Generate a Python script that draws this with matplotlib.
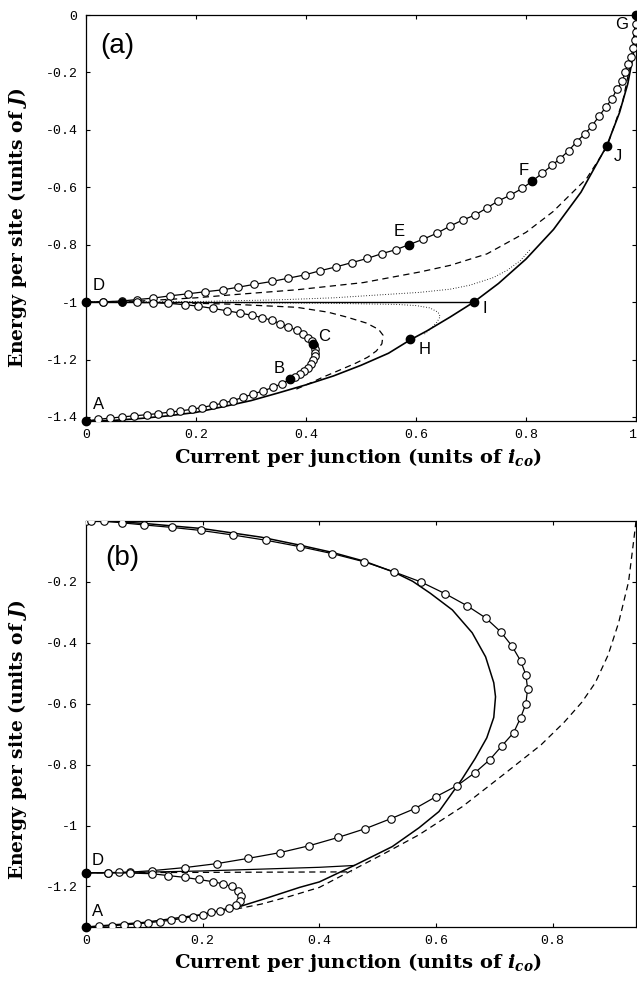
import matplotlib
matplotlib.use("Agg")
import matplotlib.pyplot as plt
import numpy as np

plt.rcParams["mathtext.fontset"] = "custom"
plt.rcParams["mathtext.rm"] = "DejaVu Serif:bold"
plt.rcParams["mathtext.it"] = "DejaVu Serif:italic:bold"
plt.rcParams["mathtext.bf"] = "DejaVu Serif:bold"

# ---------------- panel (a) data ----------------
a_upper_circ = [(0, -1.0), (0.03, -0.999), (0.065, -0.996), (0.093, -0.991), (0.122, -0.986),
                (0.153, -0.978), (0.185, -0.971), (0.216, -0.964), (0.249, -0.957), (0.277, -0.948),
                (0.306, -0.938), (0.338, -0.928), (0.367, -0.917), (0.398, -0.905), (0.425, -0.891),
                (0.455, -0.877), (0.484, -0.862), (0.511, -0.848), (0.538, -0.831), (0.564, -0.817),
                (0.587, -0.800), (0.613, -0.781), (0.638, -0.760), (0.662, -0.735), (0.685, -0.714),
                (0.707, -0.697), (0.729, -0.672), (0.749, -0.648), (0.771, -0.628), (0.793, -0.604),
                (0.811, -0.579), (0.829, -0.552), (0.847, -0.524), (0.862, -0.500), (0.878, -0.472),
                (0.892, -0.441), (0.907, -0.414), (0.920, -0.386), (0.933, -0.352), (0.945, -0.321),
                (0.956, -0.293), (0.965, -0.259), (0.975, -0.231), (0.980, -0.200), (0.985, -0.172),
                (0.991, -0.145), (0.995, -0.114), (0.998, -0.086), (1.0, -0.059), (1.0, -0.030),
                (1.0, 0.0)]
a_lower_circ = [(0, -1.0), (0.03, -1.0), (0.065, -1.0), (0.093, -1.001), (0.122, -1.002),
                (0.149, -1.004), (0.18, -1.009), (0.204, -1.014), (0.231, -1.022), (0.256, -1.030),
                (0.28, -1.038), (0.302, -1.046), (0.32, -1.054), (0.338, -1.063), (0.353, -1.075),
                (0.367, -1.086), (0.383, -1.098), (0.395, -1.111), (0.404, -1.124), (0.41, -1.137),
                (0.414, -1.150), (0.416, -1.163), (0.417, -1.176), (0.416, -1.189), (0.413, -1.202),
                (0.409, -1.215), (0.404, -1.228), (0.397, -1.241), (0.389, -1.252), (0.380, -1.261),
                (0.371, -1.269), (0.356, -1.284), (0.34, -1.297), (0.322, -1.309), (0.304, -1.320),
                (0.285, -1.332), (0.267, -1.343), (0.249, -1.352), (0.231, -1.359), (0.211, -1.367),
                (0.193, -1.373), (0.171, -1.379), (0.153, -1.383), (0.131, -1.388), (0.111, -1.392),
                (0.087, -1.396), (0.065, -1.400), (0.044, -1.404), (0.022, -1.408), (0, -1.414)]
a_solid = [(0, -1.414), (0.05, -1.412), (0.1, -1.405), (0.15, -1.396), (0.2, -1.384),
           (0.25, -1.364), (0.3, -1.343), (0.35, -1.316), (0.4, -1.288), (0.45, -1.257),
           (0.5, -1.220), (0.55, -1.178), (0.589, -1.132), (0.62, -1.100), (0.662, -1.052),
           (0.705, -1.0), (0.75, -0.935), (0.8, -0.85), (0.85, -0.747), (0.9, -0.617),
           (0.947, -0.455), (0.97, -0.34), (0.985, -0.24), (0.995, -0.14), (1.0, 0.0)]
a_flat = [(0, -1.0), (0.705, -1.0)]
a_dash_up = [(0, -1.0), (0.1, -0.996), (0.2, -0.985), (0.262, -0.975), (0.383, -0.957),
             (0.504, -0.932), (0.607, -0.895), (0.662, -0.872), (0.729, -0.832), (0.8, -0.757),
             (0.849, -0.685), (0.91, -0.57), (0.947, -0.46), (0.976, -0.3), (0.992, -0.15), (1.0, 0.0)]
a_dash_low = [(0, -1.0), (0.1, -1.001), (0.2, -1.004), (0.262, -1.007), (0.383, -1.018),
              (0.44, -1.035), (0.474, -1.052), (0.51, -1.073), (0.532, -1.095), (0.54, -1.115),
              (0.538, -1.145), (0.528, -1.17), (0.512, -1.192), (0.49, -1.213), (0.456, -1.241),
              (0.43, -1.262), (0.41, -1.28), (0.38, -1.305)]
a_dot_up = [(0, -1.0), (0.2, -0.998), (0.35, -0.992), (0.45, -0.985), (0.54, -0.974),
            (0.607, -0.966), (0.662, -0.955), (0.698, -0.941), (0.74, -0.915), (0.765, -0.89),
            (0.79, -0.855), (0.807, -0.818)]
a_dot_low = [(0, -1.0), (0.2, -1.001), (0.35, -1.003), (0.444, -1.004), (0.565, -1.008),
             (0.6, -1.012), (0.625, -1.02), (0.64, -1.035), (0.644, -1.05), (0.638, -1.07),
             (0.628, -1.09), (0.615, -1.112)]
a_points = {"A": (0, -1.414), "B": (0.371, -1.269), "C": (0.412, -1.145), "D": (0, -1.0),
            "E": (0.587, -0.800), "F": (0.811, -0.579), "G": (1.0, 0.0), "H": (0.589, -1.13),
            "I": (0.705, -1.0), "J": (0.947, -0.455)}
a_extra_dots = [(0.065, -1.0)]
a_label_pos = {"A": (0.012, -1.355), "B": (0.351, -1.231), "C": (0.433, -1.121),
               "D": (0.012, -0.941), "E": (0.569, -0.753), "F": (0.796, -0.541),
               "G": (0.973, -0.034), "H": (0.615, -1.166), "I": (0.725, -1.021),
               "J": (0.967, -0.493)}
a_xticks = [0, 0.2, 0.4, 0.6, 0.8, 1.0]
a_xticklabels = ["0", "0.2", "0.4", "0.6", "0.8", "1"]
a_yticks = [0, -0.2, -0.4, -0.6, -0.8, -1.0, -1.2, -1.4]
a_yticklabels = ["0", "-0.2", "-0.4", "-0.6", "-0.8", "-1", "-1.2", "-1.4"]

# ---------------- panel (b) data ----------------
b_upper_circ = [(0, 0.0), (0.008, 0.0), (0.031, 0.0), (0.062, -0.006), (0.1, -0.013),
                (0.147, -0.021), (0.197, -0.031), (0.252, -0.046), (0.308, -0.063), (0.366, -0.084),
                (0.422, -0.107), (0.477, -0.134), (0.528, -0.167), (0.574, -0.2), (0.616, -0.239),
                (0.653, -0.278), (0.685, -0.318), (0.711, -0.364), (0.73, -0.41), (0.745, -0.459),
                (0.754, -0.505), (0.757, -0.551), (0.754, -0.6), (0.745, -0.646), (0.733, -0.695),
                (0.713, -0.738), (0.692, -0.784), (0.667, -0.826), (0.636, -0.869), (0.6, -0.905),
                (0.564, -0.944), (0.523, -0.977), (0.479, -1.01), (0.432, -1.039), (0.383, -1.066),
                (0.332, -1.089), (0.277, -1.108), (0.224, -1.125), (0.169, -1.138), (0.113, -1.148),
                (0.075, -1.153), (0.056, -1.154), (0.038, -1.155), (0, -1.155)]
b_lower_circ = [(0, -1.155), (0.038, -1.155), (0.075, -1.156), (0.113, -1.158), (0.14, -1.164),
                (0.169, -1.17), (0.193, -1.177), (0.217, -1.184), (0.234, -1.191), (0.25, -1.2),
                (0.26, -1.214), (0.266, -1.23), (0.264, -1.247), (0.257, -1.26), (0.245, -1.27),
                (0.229, -1.279), (0.215, -1.285), (0.2, -1.292), (0.183, -1.299), (0.164, -1.305),
                (0.145, -1.311), (0.126, -1.315), (0.106, -1.319), (0.087, -1.323), (0.065, -1.326),
                (0.044, -1.329), (0.022, -1.331), (0, -1.333)]
b_solid = [(0, 0.0), (0.05, -0.002), (0.1, -0.008), (0.2, -0.025), (0.3, -0.053),
           (0.366, -0.079), (0.422, -0.103), (0.477, -0.132), (0.528, -0.168), (0.56, -0.198),
           (0.59, -0.237), (0.628, -0.292), (0.662, -0.367), (0.685, -0.446), (0.699, -0.531),
           (0.702, -0.577), (0.699, -0.645), (0.687, -0.712), (0.667, -0.78), (0.644, -0.849),
           (0.605, -0.954), (0.571, -1.007), (0.525, -1.069), (0.463, -1.128), (0.4, -1.185),
           (0.366, -1.203), (0.31, -1.238), (0.26, -1.268), (0.2, -1.292), (0.1, -1.318),
           (0, -1.333)]
b_solid_flat = [(0, -1.155), (0.1, -1.153), (0.2, -1.149), (0.3, -1.143), (0.4, -1.137),
                (0.46, -1.131)]
b_dash = [(0.9428, 0.0), (0.939, -0.062), (0.93, -0.2), (0.913, -0.334), (0.895, -0.44),
          (0.873, -0.531), (0.85, -0.595), (0.82, -0.66), (0.78, -0.735), (0.72, -0.826),
          (0.645, -0.938), (0.571, -1.03), (0.514, -1.089), (0.456, -1.147), (0.4, -1.203),
          (0.35, -1.232), (0.3, -1.258), (0.26, -1.273)]
b_dash_flat = [(0, -1.155), (0.456, -1.152)]
b_points = {"A": (0, -1.333), "D": (0, -1.155)}
b_label_pos = {"A": (0.01, -1.282), "D": (0.01, -1.115)}
b_xticks = [0, 0.2, 0.4, 0.6, 0.8]
b_xticklabels = ["0", "0.2", "0.4", "0.6", "0.8"]
b_yticks = [-0.2, -0.4, -0.6, -0.8, -1.0, -1.2]
b_yticklabels = ["-0.2", "-0.4", "-0.6", "-0.8", "-1", "-1.2"]


def xy(pts):
    a = np.array(pts)
    return a[:, 0], a[:, 1]


def circ_line(ax, pts):
    x, y = xy(pts)
    ax.plot(x, y, "-", color="black", lw=0.9, marker="o", ms=5.4, mfc="white",
            mec="black", mew=0.8, zorder=4)


def style_axes(ax, xlim, ylim, xt, xtl, yt, ytl):
    ax.set_xlim(*xlim)
    ax.set_ylim(*ylim)
    ax.set_xticks(xt)
    ax.set_xticklabels(xtl, family="Liberation Mono", fontsize=9.5)
    ax.set_yticks(yt)
    ax.set_yticklabels(ytl, family="Liberation Mono", fontsize=9.5)
    ax.tick_params(direction="in", length=3, width=0.8, top=True, right=True, pad=6)
    for s in ax.spines.values():
        s.set_linewidth(0.9)


fig = plt.figure(figsize=(6.37, 9.85), dpi=100)
ax_a = fig.add_axes([86 / 637, 1 - 421 / 985, 550 / 637, 406 / 985])
ax_b = fig.add_axes([86 / 637, 1 - 927 / 985, 550 / 637, 406 / 985])

# panel (a)
x, y = xy(a_solid)
ax_a.plot(x, y, "-", color="black", lw=1.2)
x, y = xy(a_flat)
ax_a.plot(x, y, "-", color="black", lw=1.0)
for pts in (a_dash_up, a_dash_low):
    x, y = xy(pts)
    ax_a.plot(x, y, color="black", lw=0.9, dashes=(5, 3.5))
for pts in (a_dot_up, a_dot_low):
    x, y = xy(pts)
    ax_a.plot(x, y, color="black", lw=0.7, dashes=(0.8, 2))
circ_line(ax_a, a_upper_circ)
circ_line(ax_a, a_lower_circ)
for name, (px, py) in a_points.items():
    ax_a.plot(px, py, "o", color="black", ms=6, zorder=6, clip_on=False)
for px, py in a_extra_dots:
    ax_a.plot(px, py, "o", color="black", ms=5, zorder=6)
for name, (px, py) in a_label_pos.items():
    ax_a.text(px, py, name, family="Liberation Sans", fontsize=12,
              ha="left" if name in "AD" else "center", va="center")
ax_a.text(0.025, 0.955, "(a)", transform=ax_a.transAxes, family="Liberation Sans",
          fontsize=20, ha="left", va="top")
style_axes(ax_a, (0, 1), (-1.414, 0), a_xticks, a_xticklabels, a_yticks, a_yticklabels)
ax_a.get_xticklabels()[-1].set_horizontalalignment("right")

# panel (b)
x, y = xy(b_solid)
ax_b.plot(x, y, "-", color="black", lw=1.1)
x, y = xy(b_solid_flat)
ax_b.plot(x, y, "-", color="black", lw=0.9)
for pts in (b_dash, b_dash_flat):
    x, y = xy(pts)
    ax_b.plot(x, y, color="black", lw=0.9, dashes=(5, 3.5))
circ_line(ax_b, b_upper_circ)
circ_line(ax_b, b_lower_circ)
for name, (px, py) in b_points.items():
    ax_b.plot(px, py, "o", color="black", ms=6, zorder=6, clip_on=False)
for name, (px, py) in b_label_pos.items():
    ax_b.text(px, py, name, family="Liberation Sans", fontsize=12, ha="left", va="center")
ax_b.text(0.035, 0.94, "(b)", transform=ax_b.transAxes, family="Liberation Sans",
          fontsize=20, ha="left", va="top")
style_axes(ax_b, (0, 0.9428), (-1.333, 0), b_xticks, b_xticklabels, b_yticks, b_yticklabels)

# axis labels
xlabel = r"Current per junction (units of $i_{co}$)"
ylabel = r"Energy per site (units of $J$)"
for ycen in (457, 962):
    fig.text(358 / 637, 1 - ycen / 985, xlabel, family="DejaVu Serif", weight="bold",
             fontsize=14, ha="center", va="center")
for ycen in (228, 740):
    fig.text(18 / 637, 1 - ycen / 985, ylabel, family="DejaVu Serif", weight="bold",
             fontsize=13.5, ha="center", va="center", rotation=90)

fig.savefig("out.png", dpi=100)
